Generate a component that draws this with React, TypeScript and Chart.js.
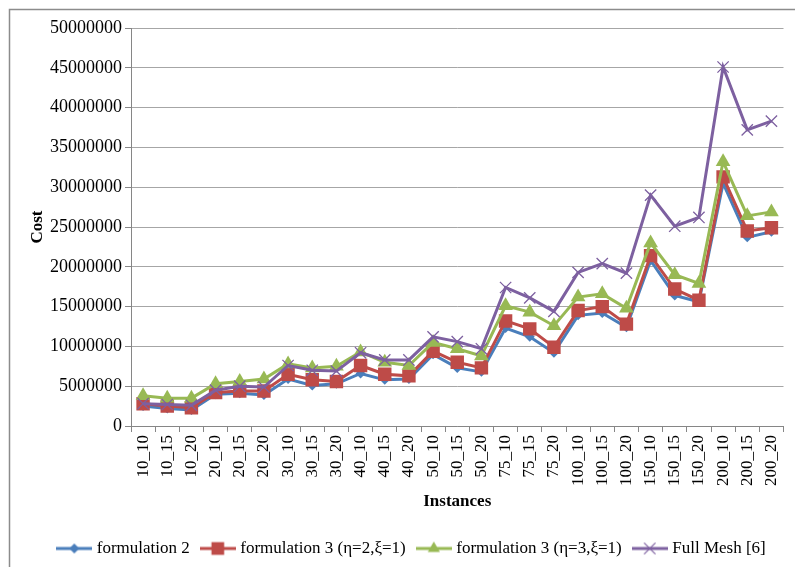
import { useEffect, useRef } from "react";
import { Chart, registerables } from "chart.js";

Chart.register(...registerables);

const categories = [
  "10_10", "10_15", "10_20", "20_10", "20_15", "20_20", "30_10", "30_15", "30_20",
  "40_10", "40_15", "40_20", "50_10", "50_15", "50_20", "75_10", "75_15", "75_20",
  "100_10", "100_15", "100_20", "150_10", "150_15", "150_20", "200_10", "200_15", "200_20",
];

const formulation2 = [
  2500000, 2200000, 2000000, 4000000, 4100000, 3900000, 5900000, 5100000, 5300000,
  6600000, 5800000, 5900000, 9000000, 7300000, 6800000, 12300000, 11200000, 9200000,
  13900000, 14200000, 12400000, 20800000, 16400000, 15600000, 30500000, 23700000, 24400000,
];

const formulation3a = [
  2800000, 2500000, 2300000, 4200000, 4400000, 4400000, 6500000, 5800000, 5600000,
  7600000, 6500000, 6300000, 9400000, 8000000, 7300000, 13200000, 12200000, 9900000,
  14500000, 15000000, 12800000, 21400000, 17200000, 15800000, 31300000, 24500000, 24900000,
];

const formulation3b = [
  3800000, 3500000, 3500000, 5300000, 5600000, 5900000, 7800000, 7300000, 7500000,
  9300000, 8000000, 7600000, 10500000, 9700000, 8800000, 15100000, 14300000, 12600000,
  16200000, 16600000, 14800000, 23000000, 19000000, 17900000, 33200000, 26400000, 26900000,
];

const fullMesh = [
  2800000, 2700000, 2600000, 4500000, 5000000, 4900000, 7600000, 7000000, 6900000,
  9200000, 8300000, 8300000, 11200000, 10600000, 9700000, 17400000, 16100000, 14400000,
  19300000, 20400000, 19200000, 29000000, 25100000, 26200000, 45100000, 37200000, 38300000,
];

const seriesNames = [
  "formulation 2",
  "formulation 3 (η=2,ξ=1)",
  "formulation 3 (η=3,ξ=1)",
  "Full Mesh [6]",
];

const yTickMax = 50000000;
const yTickStep = 5000000;

const BLUE = "#4A7EBB";
const RED = "#BE4B48";
const GREEN = "#98B954";
const PURPLE = "#7D60A0";
const FONT = "'Liberation Serif', 'Times New Roman', serif";

function drawMarker(ctx: CanvasRenderingContext2D, kind: string, x: number, y: number, r: number, color: string) {
  ctx.save();
  ctx.fillStyle = color;
  ctx.strokeStyle = color;
  ctx.beginPath();
  if (kind === "diamond") {
    ctx.moveTo(x, y - r);
    ctx.lineTo(x + r, y);
    ctx.lineTo(x, y + r);
    ctx.lineTo(x - r, y);
    ctx.closePath();
    ctx.fill();
  } else if (kind === "square") {
    const s = r * Math.SQRT1_2;
    ctx.rect(x - s, y - s, 2 * s, 2 * s);
    ctx.fill();
  } else if (kind === "triangle") {
    ctx.moveTo(x, y - r);
    ctx.lineTo(x + r * Math.sin((2 * Math.PI) / 3), y - r * Math.cos((2 * Math.PI) / 3));
    ctx.lineTo(x + r * Math.sin((4 * Math.PI) / 3), y - r * Math.cos((4 * Math.PI) / 3));
    ctx.closePath();
    ctx.fill();
  } else {
    ctx.lineWidth = 1.2;
    const d = r * Math.SQRT1_2;
    ctx.moveTo(x - d, y - d);
    ctx.lineTo(x + d, y + d);
    ctx.moveTo(x + d, y - d);
    ctx.lineTo(x - d, y + d);
    ctx.stroke();
  }
  ctx.restore();
}

function makeIcon(color: string, kind: string, r: number): HTMLCanvasElement {
  const c = document.createElement("canvas");
  c.width = 36;
  c.height = 16;
  const ctx = c.getContext("2d")!;
  ctx.strokeStyle = color;
  ctx.lineWidth = 3;
  ctx.beginPath();
  ctx.moveTo(0, 8);
  ctx.lineTo(36, 8);
  ctx.stroke();
  drawMarker(ctx, kind, 18, 8, r, color);
  return c;
}

export default function App() {
  const ref = useRef<HTMLCanvasElement | null>(null);

  useEffect(() => {
    if (!ref.current) return;
    const icons = [
      makeIcon(BLUE, "diamond", 5),
      makeIcon(RED, "square", 9),
      makeIcon(GREEN, "triangle", 7),
      makeIcon(PURPLE, "cross", 8),
    ];
    const colors = [BLUE, RED, GREEN, PURPLE];

    const framePlugin = {
      id: "frame",
      beforeDraw(chart: any) {
        const ctx = chart.ctx;
        ctx.save();
        ctx.fillStyle = "#ffffff";
        ctx.fillRect(0, 0, chart.width, chart.height);
        ctx.strokeStyle = "#8c8c8c";
        ctx.lineWidth = 1.5;
        ctx.strokeRect(9.5, 9.5, chart.width + 20, chart.height + 20);
        ctx.restore();
      },
      afterLayout(chart: any) {
        if (chart.legend) {
          chart.legend.left += 14;
          chart.legend.right += 14;
        }
      },
    };

    const chart = new Chart(ref.current, {
      type: "line",
      data: {
        labels: categories,
        datasets: [
          {
            label: seriesNames[0],
            data: formulation2,
            borderColor: BLUE,
            backgroundColor: BLUE,
            borderWidth: 3,
            pointStyle: "rectRot",
            pointRadius: 5,
            pointBorderWidth: 0,
            order: 4,
          },
          {
            label: seriesNames[1],
            data: formulation3a,
            borderColor: RED,
            backgroundColor: RED,
            borderWidth: 3,
            pointStyle: "rect",
            pointRadius: 9.5,
            pointBorderWidth: 0,
            order: 3,
          },
          {
            label: seriesNames[2],
            data: formulation3b,
            borderColor: GREEN,
            backgroundColor: GREEN,
            borderWidth: 3,
            pointStyle: "triangle",
            pointRadius: 8.5,
            pointBorderWidth: 0,
            order: 2,
          },
          {
            label: seriesNames[3],
            data: fullMesh,
            borderColor: PURPLE,
            backgroundColor: PURPLE,
            borderWidth: 3,
            pointStyle: "crossRot",
            pointRadius: 8,
            pointBorderWidth: 1.3,
            order: 1,
          },
        ],
      },
      options: {
        responsive: false,
        animation: false,
        devicePixelRatio: 1,
        layout: { padding: { left: 10, right: 7, top: 28, bottom: 0 } },
        plugins: {
          tooltip: { enabled: false },
          legend: {
            position: "bottom",
            labels: {
              usePointStyle: true,
              pointStyleWidth: 28,
              padding: 14,
              color: "#000",
              font: { family: FONT, size: 17 },
              generateLabels: () =>
                seriesNames.map((name, i) => ({
                  text: name,
                  fillStyle: colors[i],
                  strokeStyle: colors[i],
                  lineWidth: 0,
                  pointStyle: icons[i],
                  hidden: false,
                  datasetIndex: i,
                  fontColor: "#000",
                })),
            },
          },
        },
        scales: {
          x: {
            type: "category",
            offset: true,
            afterFit: (s: any) => {
              s.height = 100;
            },
            grid: {
              offset: true,
              drawOnChartArea: false,
              drawTicks: true,
              tickLength: 6,
              color: "#868686",
            },
            border: { color: "#868686", width: 1 },
            ticks: {
              autoSkip: false,
              maxRotation: 90,
              minRotation: 90,
              padding: 3,
              color: "#000",
              font: { family: FONT, size: 17 },
            },
            title: {
              display: true,
              text: "Instances",
              color: "#000",
              font: { family: FONT, size: 17, weight: "bold" },
              padding: { top: 0, bottom: 14 },
            },
          },
          y: {
            min: 0,
            max: yTickMax,
            afterFit: (s: any) => {
              s.width = 121;
            },
            grid: {
              color: "#a6a6a6",
              lineWidth: 1,
              tickLength: 6,
              tickColor: "#868686",
            },
            border: { color: "#868686", width: 1 },
            ticks: {
              stepSize: yTickStep,
              padding: 3,
              color: "#000",
              font: { family: FONT, size: 18 },
              callback: (v: any) => String(v),
            },
            title: {
              display: true,
              text: "Cost",
              color: "#000",
              font: { family: FONT, size: 17, weight: "bold" },
              padding: { top: 17, bottom: 0 },
            },
          },
        },
      },
      plugins: [framePlugin],
    } as any);

    return () => chart.destroy();
  }, []);

  return (
    <div style={{ position: "absolute", left: 0, top: 0, width: 795, height: 567 }}>
      <canvas ref={ref} width={795} height={567} style={{ width: 795, height: 567, display: "block" }} />
    </div>
  );
}
